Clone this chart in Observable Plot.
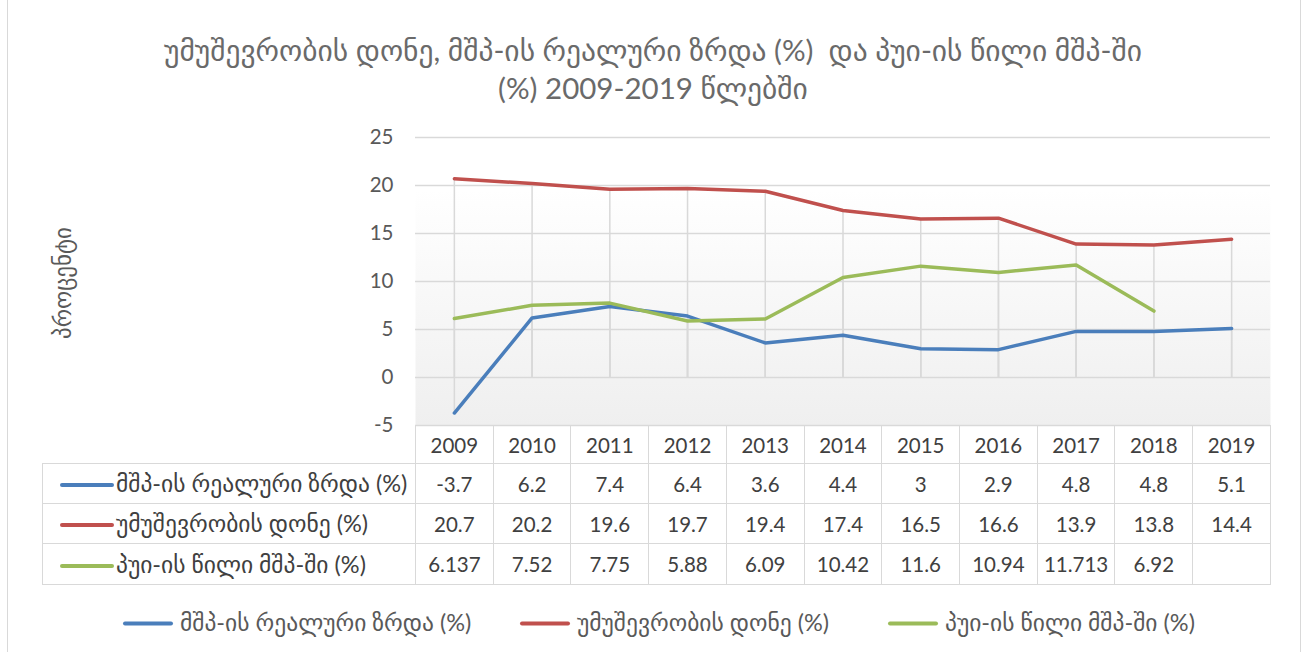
<!DOCTYPE html>
<html><head><meta charset="utf-8">
<script src="https://cdn.jsdelivr.net/npm/d3@7"></script>
<script src="https://cdn.jsdelivr.net/npm/@observablehq/plot@0.6"></script>
<style>
html,body{margin:0;padding:0;background:#fff;}
#root{position:relative;width:1306px;height:652px;overflow:hidden;font-family:Lato,"DejaVu Sans",sans-serif;color:#595959;}
#border{position:absolute;left:7px;top:-4px;width:1292px;height:670px;border-left:1.5px solid #d9d9d9;border-right:1.5px solid #d9d9d9;}
.title{position:absolute;left:0;width:1306px;text-align:center;font-size:29.5px;line-height:36px;color:#6a6a6a;white-space:pre;}
#ylab{position:absolute;left:62px;top:283px;transform:translate(-50%,-50%) rotate(-90deg);font-size:23px;color:#595959;white-space:nowrap;}
#chart{position:absolute;left:0;top:110px;}
table{position:absolute;left:42px;top:425px;border-collapse:collapse;font-size:20.5px;color:#404040;table-layout:fixed;}
td{border:1.5px solid #d9d9d9;text-align:center;padding:0;white-space:nowrap;overflow:visible;}
td.lab{text-align:left;font-size:23.5px;}
td.corner{border-top:none;border-left:none;}
.key{display:inline-block;width:54px;height:4px;border-radius:2px;vertical-align:middle;margin:0 2px 0 17px;position:relative;top:-1px;}
.leg{position:absolute;top:622px;transform:translateY(-50%);font-size:23.5px;color:#595959;white-space:nowrap;}
.leg .key{margin:0 7px 0 0;width:50px;}
</style></head>
<body><div id="root"><div id="border"></div></div>
<script>
const years = [2009, 2010, 2011, 2012, 2013, 2014, 2015, 2016, 2017, 2018, 2019];
const gdpGrowth = [-3.7, 6.2, 7.4, 6.4, 3.6, 4.4, 3, 2.9, 4.8, 4.8, 5.1];
const unemployment = [20.7, 20.2, 19.6, 19.7, 19.4, 17.4, 16.5, 16.6, 13.9, 13.8, 14.4];
const fdiShare = [6.137, 7.52, 7.75, 5.88, 6.09, 10.42, 11.6, 10.94, 11.713, 6.92, null];
const seriesNames = ["მშპ-ის რეალური ზრდა (%)", "უმუშევრობის დონე (%)", "პუი-ის წილი მშპ-ში (%)"];
const seriesColors = ["#4a7ebb", "#c0504d", "#9bbb59"];
const yTicks = [-5, 0, 5, 10, 15, 20, 25];
const titleLines = ["უმუშევრობის დონე, მშპ-ის რეალური ზრდა (%)  და პუი-ის წილი მშპ-ში", "(%) 2009-2019 წლებში"];
const yLabel = "პროცენტი";

const seriesValues = [gdpGrowth, unemployment, fdiShare];
const points = [];
seriesValues.forEach((vals, si) => vals.forEach((v, i) => {
  if (v != null) points.push({series: seriesNames[si], year: years[i], value: v});
}));

const root = document.getElementById("root");
titleLines.forEach((t, i) => {
  const d = document.createElement("div");
  d.className = "title";
  d.textContent = t;
  d.style.top = (32 + i * 38) + "px";
  root.appendChild(d);
});
const yl = document.createElement("div");
yl.id = "ylab"; yl.textContent = yLabel; root.appendChild(yl);

const left = 415, right = 1270;
const chart = Plot.plot({
  width: 1306, height: 330,
  marginLeft: left, marginRight: 1306 - right, marginTop: 27, marginBottom: 15,
  style: {fontFamily: "Lato, 'DejaVu Sans', sans-serif", fontSize: "20.5px", color: "#595959", background: "transparent", overflow: "visible"},
  x: {type: "linear", domain: [years[0] - 0.5, years[years.length - 1] + 0.5], axis: null},
  y: {domain: [-5, 25], axis: null},
  marks: [
    Plot.frame({fill: "url(#plotbg)", stroke: "none"}),
    Plot.ruleY(yTicks, {stroke: "#d9d9d9", strokeWidth: 1.5}),
    Plot.ruleX(points, {x: "year", y1: 0, y2: "value", stroke: "#d9d9d9", strokeWidth: 1.5}),
    Plot.axisY({ticks: yTicks, tickSize: 0, tickPadding: 22, fontSize: 20.5, label: null, color: "#595959", tickFormat: d => String(d)}),
    ...seriesNames.map((name, si) => Plot.line(points.filter(p => p.series === name), {
      x: "year", y: "value", stroke: seriesColors[si], strokeWidth: 3.5, strokeLinecap: "round", strokeLinejoin: "round"
    }))
  ]
});
chart.id = "chart";
const defs = d3.create("svg:defs");
const g = defs.append("linearGradient").attr("id", "plotbg").attr("x1", 0).attr("y1", 0).attr("x2", 0).attr("y2", 1);
g.append("stop").attr("offset", "0%").attr("stop-color", "#ffffff");
g.append("stop").attr("offset", "18%").attr("stop-color", "#ffffff");
g.append("stop").attr("offset", "100%").attr("stop-color", "#efefef");
chart.insertBefore(defs.node(), chart.firstChild);
root.appendChild(chart);

// data table aligned to x scale
const colW = (right - left) / years.length;
const table = document.createElement("table");
const cg = document.createElement("colgroup");
[left - 42, ...years.map(() => colW)].forEach(w => { const c = document.createElement("col"); c.style.width = w + "px"; cg.appendChild(c); });
table.appendChild(cg);
const hr = document.createElement("tr"); hr.style.height = "38px";
const corner = document.createElement("td"); corner.className = "corner"; hr.appendChild(corner);
years.forEach(y => { const td = document.createElement("td"); td.textContent = y; hr.appendChild(td); });
table.appendChild(hr);
seriesNames.forEach((name, si) => {
  const tr = document.createElement("tr"); tr.style.height = si === 2 ? "41px" : "40px";
  const lab = document.createElement("td"); lab.className = "lab";
  lab.innerHTML = `<span class="key" style="background:${seriesColors[si]}"></span>`;
  lab.appendChild(document.createTextNode(name));
  tr.appendChild(lab);
  seriesValues[si].forEach(v => { const td = document.createElement("td"); td.textContent = v == null ? "" : String(v); tr.appendChild(td); });
  table.appendChild(tr);
});
root.appendChild(table);

// bottom legend
const legX = [123, 520, 888];
seriesNames.forEach((name, si) => {
  const d = document.createElement("div"); d.className = "leg"; d.style.left = legX[si] + "px";
  d.innerHTML = `<span class="key" style="background:${seriesColors[si]}"></span>`;
  d.appendChild(document.createTextNode(name));
  root.appendChild(d);
});
</script></body></html>
